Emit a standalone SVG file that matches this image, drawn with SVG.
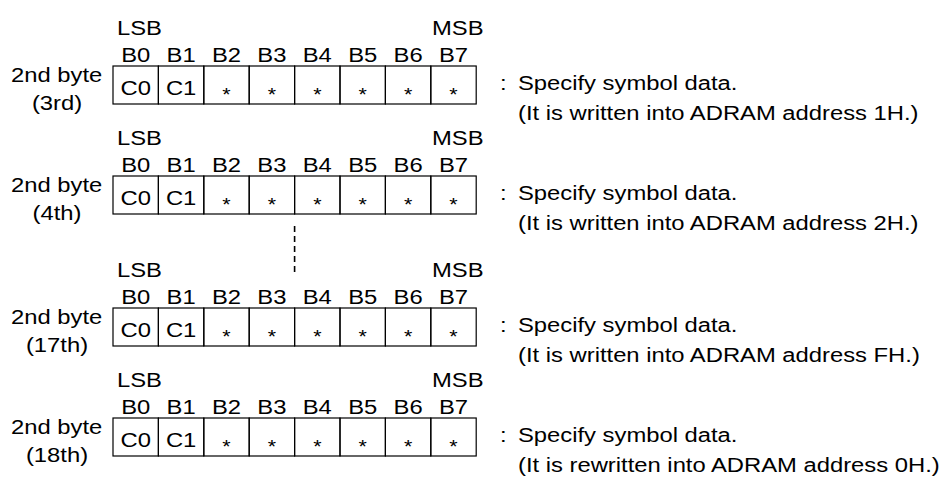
<svg xmlns="http://www.w3.org/2000/svg" xmlns:xlink="http://www.w3.org/1999/xlink" width="947" height="477" viewBox="0 0 947 477">
<style>
.t { font-family: "Liberation Sans", Arial, sans-serif; font-size: 20px; fill: #000; }
.m { text-anchor: middle; }
.ast { font-size: 18px; }
.cell { fill: none; stroke: #000; stroke-width: 1.2; }
.dash { fill: none; stroke: #000; stroke-width: 1.6; stroke-dasharray: 6 4; }
</style>
<defs>
<g id="row">
<text class="t" transform="translate(117 9) scale(1.19 1)">LSB</text>
<text class="t" transform="translate(432 9) scale(1.19 1)">MSB</text>
<text class="t m" transform="translate(135.7 36) scale(1.19 1)">B0</text>
<text class="t m" transform="translate(181.1 36) scale(1.19 1)">B1</text>
<text class="t m" transform="translate(226.5 36) scale(1.19 1)">B2</text>
<text class="t m" transform="translate(271.9 36) scale(1.19 1)">B3</text>
<text class="t m" transform="translate(317.3 36) scale(1.19 1)">B4</text>
<text class="t m" transform="translate(362.7 36) scale(1.19 1)">B5</text>
<text class="t m" transform="translate(408.1 36) scale(1.19 1)">B6</text>
<text class="t m" transform="translate(453.5 36) scale(1.19 1)">B7</text>
<rect class="cell" x="113" y="40" width="45.4" height="38"/>
<rect class="cell" x="158.4" y="40" width="45.4" height="38"/>
<rect class="cell" x="203.8" y="40" width="45.4" height="38"/>
<rect class="cell" x="249.2" y="40" width="45.4" height="38"/>
<rect class="cell" x="294.6" y="40" width="45.4" height="38"/>
<rect class="cell" x="340" y="40" width="45.4" height="38"/>
<rect class="cell" x="385.4" y="40" width="45.4" height="38"/>
<rect class="cell" x="430.8" y="40" width="45.4" height="38"/>
<text class="t m" transform="translate(135.7 69) scale(1.19 1)">C0</text>
<text class="t m" transform="translate(181.1 69) scale(1.19 1)">C1</text>
<text class="t m ast" transform="translate(226.5 75) scale(1.19 1)">*</text>
<text class="t m ast" transform="translate(271.9 75) scale(1.19 1)">*</text>
<text class="t m ast" transform="translate(317.3 75) scale(1.19 1)">*</text>
<text class="t m ast" transform="translate(362.7 75) scale(1.19 1)">*</text>
<text class="t m ast" transform="translate(408.1 75) scale(1.19 1)">*</text>
<text class="t m ast" transform="translate(453.5 75) scale(1.19 1)">*</text>
<text class="t" transform="translate(500 64) scale(1.19 1)">:</text>
<text class="t" transform="translate(518 64) scale(1.19 1)">Specify symbol data.</text>
<text class="t" transform="translate(11 56) scale(1.19 1)">2nd byte</text>
</g>
</defs>
<g id="byte3">
<use xlink:href="#row" href="#row" transform="translate(0 26)"/>
<text class="t m" transform="translate(57 110) scale(1.19 1)">(3rd)</text>
<text class="t" transform="translate(518 120) scale(1.19 1)">(It is written into ADRAM address 1H.)</text>
</g>
<g id="byte4">
<use xlink:href="#row" href="#row" transform="translate(0 136)"/>
<text class="t m" transform="translate(57 220) scale(1.19 1)">(4th)</text>
<text class="t" transform="translate(518 230) scale(1.19 1)">(It is written into ADRAM address 2H.)</text>
</g>
<g id="byte17">
<use xlink:href="#row" href="#row" transform="translate(0 268)"/>
<text class="t m" transform="translate(57 352) scale(1.19 1)">(17th)</text>
<text class="t" transform="translate(518 362) scale(1.19 1)">(It is written into ADRAM address FH.)</text>
</g>
<g id="byte18">
<use xlink:href="#row" href="#row" transform="translate(0 378)"/>
<text class="t m" transform="translate(57 462) scale(1.19 1)">(18th)</text>
<text class="t" transform="translate(518 472) scale(1.19 1)">(It is rewritten into ADRAM address 0H.)</text>
</g>
<g id="connectors">
<line class="dash" x1="294.6" y1="226" x2="294.6" y2="274"/>
</g>
</svg>
